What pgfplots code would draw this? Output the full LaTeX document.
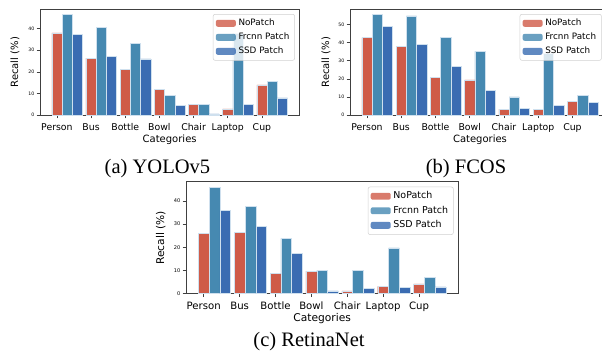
\documentclass[border=0pt]{standalone}
\usepackage{pgfplots}
\pgfplotsset{compat=1.18}
\usepackage{pgfplotstable}
\usepackage{fontspec}
\setmainfont{Liberation Serif}
\newfontfamily\dv{DejaVu Sans}
\definecolor{cNo}{HTML}{CF5B48}
\definecolor{cFr}{HTML}{4689B1}
\definecolor{cSSD}{HTML}{3A6CB2}
\definecolor{edgec}{HTML}{CFE0EE}

\pgfplotstableread{
x no fr ssd
0 38.1 46.6 37.4
1 26.4 40.6 27.1
2 21.1 33.3 26.0
3 11.9 9.1 4.5
4 5.0 5.0 0.5
5 2.8 38.0 4.8
6 14.0 15.5 7.9
}\dataA
\pgfplotstableread{
x no fr ssd
0 42.8 55.6 49.1
1 37.8 54.8 38.9
2 20.8 42.8 27.1
3 19.4 35.2 13.8
4 3.3 10.0 3.7
5 3.3 34.1 5.2
6 7.4 10.9 6.8
}\dataB
\pgfplotstableread{
x no fr ssd
0 25.9 45.9 35.9
1 26.5 37.5 29.1
2 8.7 23.8 17.5
3 9.7 10.1 1.2
4 1.2 10.1 2.3
5 3.2 19.7 2.6
6 4.2 7.0 2.9
}\dataC

\pgfplotsset{
  mybar/.style={ybar, bar width=0.3, bar shift=0pt, draw=edgec, line width=0.35pt,
    legend image code/.code={\fill[##1, draw=none] (0pt,-2.6pt) rectangle (15pt,2.6pt);}},
  common/.style={
    scale only axis,
    xmin=-0.495, xmax=7.095, ymin=0,
    xtick={0,1,2,3,4,5,6},
    xticklabels={Person,Bus,Bottle,Bowl,Chair,Laptop,Cup},
    xtick pos=left, ytick pos=left,
    tick align=outside,
    major tick length=2.6pt,
    every tick/.style={black!75, line width=0.5pt},
    axis line style={black!75, line width=0.6pt},
    /pgf/number format/assume math mode=true,
    ylabel={Recall (\%)},
    xlabel={Categories},
    legend cell align=left,
    legend style={anchor=north east, draw=black!18, rounded corners=1.5pt,
      fill=white, fill opacity=0.8, text opacity=1, inner xsep=2pt, inner ysep=1.5pt},
  },
}

\begin{document}
\begin{tikzpicture}
\useasboundingbox (0pt,0pt) rectangle (451.5pt,263.25pt);
\clip (0pt,0pt) rectangle (451.5pt,263.25pt);
% (a)
\begin{axis}[common,
  at={(30pt,177pt)}, anchor=south west,
  width=194.5pt, height=79.3pt,
  ymax=49, ytick={0,10,20,30,40},
  xticklabel style={font=\dv\fontsize{7}{8}\selectfont, anchor=base, inner sep=0pt, yshift=-9.2pt},
  yticklabel style={font=\dv\fontsize{3.5}{4}\selectfont, anchor=east, inner sep=0pt, xshift=-1.5pt},
  xlabel style={font=\dv\fontsize{7.5}{9}\selectfont, at={(axis description cs:0.5,0)}, yshift=-18.4pt, anchor=center},
  ylabel style={font=\dv\fontsize{7.5}{9}\selectfont, at={(axis description cs:-0.096,0.5)}, anchor=center},
  legend style={at={(0.983,0.955)}, font=\dv\fontsize{6.6}{8}\selectfont},
]
\addplot[mybar, fill=cNo] table[x=x, y=no] {\dataA};
\addplot[mybar, fill=cFr] table[x expr=\thisrow{x}+0.3, y=fr] {\dataA};
\addplot[mybar, fill=cSSD] table[x expr=\thisrow{x}+0.6, y=ssd] {\dataA};
\legend{NoPatch, Frcnn Patch, SSD Patch}
\end{axis}
% (b)
\begin{axis}[common,
  at={(262.5pt,177pt)}, anchor=south west,
  width=195pt, height=79.3pt,
  ymax=58.5, ytick={0,10,20,30,40,50},
  xticklabel style={font=\dv\fontsize{7}{8}\selectfont, anchor=base, inner sep=0pt, yshift=-9.2pt},
  yticklabel style={font=\dv\fontsize{3.5}{4}\selectfont, anchor=east, inner sep=0pt, xshift=-1.5pt},
  xlabel style={font=\dv\fontsize{7.5}{9}\selectfont, at={(axis description cs:0.5,0)}, yshift=-18.4pt, anchor=center},
  ylabel style={font=\dv\fontsize{7.5}{9}\selectfont, at={(axis description cs:-0.092,0.5)}, anchor=center},
  legend style={at={(0.968,0.955)}, font=\dv\fontsize{6.6}{8}\selectfont},
]
\addplot[mybar, fill=cNo] table[x=x, y=no] {\dataB};
\addplot[mybar, fill=cFr] table[x expr=\thisrow{x}+0.3, y=fr] {\dataB};
\addplot[mybar, fill=cSSD] table[x expr=\thisrow{x}+0.6, y=ssd] {\dataB};
\legend{NoPatch, Frcnn Patch, SSD Patch}
\end{axis}
% (c)
\begin{axis}[common,
  at={(139.5pt,43pt)}, anchor=south west,
  width=204.2pt, height=84pt,
  ymax=48.3, ytick={0,10,20,30,40},
  xticklabel style={font=\dv\fontsize{7.6}{9}\selectfont, anchor=base, inner sep=0pt, yshift=-9.4pt},
  yticklabel style={font=\dv\fontsize{3.8}{4.5}\selectfont, anchor=east, inner sep=0pt, xshift=-1.5pt},
  xlabel style={font=\dv\fontsize{8}{9.5}\selectfont, at={(axis description cs:0.5,0)}, yshift=-19pt, anchor=center},
  ylabel style={font=\dv\fontsize{8}{9.5}\selectfont, at={(axis description cs:-0.093,0.5)}, anchor=center},
  legend style={at={(0.983,0.955)}, font=\dv\fontsize{7.1}{8.5}\selectfont},
]
\addplot[mybar, fill=cNo] table[x=x, y=no] {\dataC};
\addplot[mybar, fill=cFr] table[x expr=\thisrow{x}+0.3, y=fr] {\dataC};
\addplot[mybar, fill=cSSD] table[x expr=\thisrow{x}+0.6, y=ssd] {\dataC};
\legend{NoPatch, Frcnn Patch, SSD Patch}
\end{axis}
\node[anchor=base, font=\fontsize{15.4}{18}\selectfont, inner sep=0pt] at (118.1pt,133.3pt) {(a) YOLOv5};
\node[anchor=base, font=\fontsize{15.4}{18}\selectfont, inner sep=0pt] at (349.5pt,133.3pt) {(b) FCOS};
\node[anchor=base, font=\fontsize{15.4}{18}\selectfont, inner sep=0pt] at (231.75pt,3.3pt) {(c) RetinaNet};
\end{tikzpicture}
\end{document}
